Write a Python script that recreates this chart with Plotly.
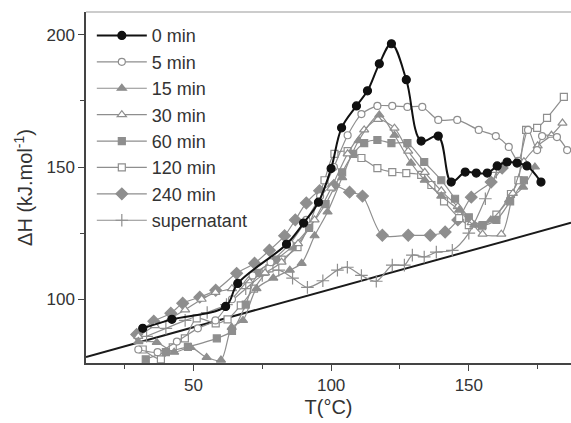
import plotly.graph_objects as go

# ---------------- data ----------------
T0 = [31.6, 42.2, 61.7, 66.1, 83.8, 90, 95.4, 100, 103.8, 109.2, 113.2, 117.5, 121.9, 127.3,
      132.7, 138.9, 143.6, 148.7, 152.7, 156.7, 160.3, 163.9, 167.5, 171.1, 176.2]
H0 = [89, 92.4, 97.3, 106, 120.8, 128.8, 136.7, 149.4, 164.8, 173.1, 178.8, 189, 196.6, 183,
      159.8, 161.7, 144.3, 148.1, 147.7, 147.7, 150.4, 151.9, 151.5, 150.4, 144.3]

T5 = [30, 37, 44, 51.6, 58, 64, 71.5, 78, 85, 91, 96, 101, 106, 111, 116.8, 122.2, 127.7, 133.1,
      138.9, 145.8, 153.6, 159.8, 164.5, 167.9, 171.5, 174.8, 176.6, 182, 185.7]
H5 = [81, 80, 84, 89, 92, 100, 109, 114, 121, 130, 139, 150, 162, 170, 173.1, 173.1, 172.7, 172.7,
      167.8, 167.8, 164, 161.7, 157.6, 152.3, 164, 156.4, 161.7, 161.3, 156.4]

T15 = [30, 36.7, 43, 49, 54.8, 60, 63.9, 68, 72.9, 79, 85, 89.3, 94, 98.7, 104, 110, 117.5, 123,
       129, 134, 140, 146.5, 152, 158, 164.6, 169.7, 174]
H15 = [84, 83.7, 80, 81.8, 78, 77, 89.4, 92, 104, 108, 111, 113.6, 124, 133, 146, 160, 169.7, 162,
       151.5, 145, 139, 133.7, 128, 130, 137.5, 142.4, 150]

T30 = [30, 36, 42, 47, 53, 58, 64, 70, 76, 82, 88, 94, 100, 106, 112, 117, 123, 128, 134, 140,
       146, 151, 155, 161.8, 166, 170, 175, 180, 184]
H30 = [86, 90, 93, 96, 100, 102.6, 104, 107, 110, 114, 121, 130, 142, 155, 164, 168, 164.7, 156,
       148, 141, 135, 129, 124.6, 124.6, 140, 152, 158, 162, 166.6]

T60 = [32.7, 40, 48, 58.5, 64, 69, 73.3, 80, 86, 92, 98, 104, 108, 112, 116.8, 121.9, 127.7,
       133.8, 140, 145, 150, 155, 160, 165, 170]
H60 = [77.3, 80, 82, 85.2, 88, 98, 110, 115, 120, 127, 136, 148, 155, 159, 160.2, 159, 159,
       151.9, 145, 138, 131, 128, 130, 137, 145]

T120 = [31.6, 38.2, 42.5, 46.9, 51.2, 58.1, 62.4, 67.2, 72, 77.6, 82, 87.8, 92, 97.6, 101.2, 106,
        111, 116.8, 122.2, 127.3, 132.7, 136.4, 141, 146.5, 150, 154.8, 160, 165.3, 168, 170.8,
        174.8, 178.4, 184.5]
H120 = [81, 77.3, 81.8, 85.2, 92.8, 90.9, 92.4, 97.7, 104, 111.7, 115, 119.7, 128, 145, 155, 156,
        153.4, 149.6, 148.1, 147.7, 147, 143.2, 137, 130.7, 128, 127.6, 132, 139.8, 145, 164,
        164.8, 168.6, 176.5]

T240 = [29.4, 35.6, 41.8, 46.1, 52.3, 58.1, 65.7, 72.2, 77.6, 83.1, 87, 91, 95.8, 101, 106.7,
        111.4, 118.6, 128, 136, 141.4, 146, 150.9, 158.1, 162.1]
H240 = [86.7, 91.7, 94.7, 98.5, 100.8, 103.4, 109.8, 113.6, 118.5, 124, 130, 136.4, 141, 143,
        140.5, 139, 124.2, 124.2, 124.2, 125.4, 130, 138.6, 144.3, 149.6]

Tsup = [33, 40, 47, 55, 62, 69, 75, 81, 86, 91.4, 97, 102.3, 105.9, 111, 116.4, 122.2, 126.6,
        129.5, 133.8, 138.2, 144, 150, 156, 160]
Hsup = [86, 89, 92, 95, 98, 104, 109, 111, 108, 104.5, 107, 111, 112.1, 109, 106.8, 112.9, 112.9,
        116.7, 116, 117.8, 118.5, 125, 138, 148]

Tbase = [11, 187.1]
Hbase = [78.2, 128.9]

series_names = ["0 min", "5 min", "15 min", "30 min", "60 min", "120 min", "240 min", "supernatant"]

x_ticks = [50, 100, 150]
y_ticks = [100, 150, 200]

# ---------------- figure ----------------
GRAY = "#8e8e8e"
fig = go.Figure()

fig.add_trace(go.Scatter(x=Tbase, y=Hbase, mode="lines", line=dict(color="#1a1a1a", width=2),
                         showlegend=False, hoverinfo="skip"))

def add(T, H, name, symbol, filled, size=8, lc=GRAY, lw=1.2, sm=0.8):
    fig.add_trace(go.Scatter(
        x=T, y=H, name=name, mode="lines+markers",
        line=dict(color=lc, width=lw, shape="spline", smoothing=sm),
        marker=dict(symbol=symbol, size=size,
                    color=(lc if filled else "white"),
                    line=dict(color=lc, width=1.2))))

add(Tsup, Hsup, series_names[7], "cross-thin", False, 9)
add(T240, H240, series_names[6], "diamond", True, 9)
add(T120, H120, series_names[5], "square", False, 7)
add(T60, H60, series_names[4], "square", True, 7)
add(T30, H30, series_names[3], "triangle-up", False, 8)
add(T15, H15, series_names[2], "triangle-up", True, 8)
add(T5, H5, series_names[1], "circle", False, 7)
add(T0, H0, series_names[0], "circle", True, 8, lc="#111111", lw=2, sm=1.0)

fig.update_layout(
    width=571, height=423,
    margin=dict(l=86, r=0, t=12, b=60),
    paper_bgcolor="white", plot_bgcolor="white",
    font=dict(family="Liberation Sans, Arial, sans-serif", size=17, color="#333333"),
    showlegend=True,
    legend=dict(x=0.012, y=0.985, xanchor="left", yanchor="top", traceorder="reversed",
                bgcolor="rgba(0,0,0,0)", font=dict(size=18, color="#333333"),
                itemwidth=50, tracegroupgap=0),
    xaxis=dict(range=[11, 187.1], tickvals=x_ticks, ticks="outside", ticklen=6, tickwidth=1,
               tickcolor="#444", showline=True, linecolor="#444", linewidth=1.5,
               showgrid=False, zeroline=False, automargin=False,
               minor=dict(tickvals=[25, 75, 125, 175], ticks="outside", ticklen=4,
                          tickcolor="#444"),
               title=dict(text="T(°C)", standoff=6)),
    yaxis=dict(range=[75.9, 208.6], tickvals=y_ticks, ticks="outside", ticklen=6, tickwidth=1,
               tickcolor="#444", showline=True, linecolor="#444", linewidth=1.5,
               showgrid=False, zeroline=False, automargin=False,
               minor=dict(tickvals=[125, 175], ticks="outside", ticklen=4, tickcolor="#444"),
               title=dict(text="ΔH (kJ.mol<sup>-1</sup>)", standoff=8)),
)

fig.add_shape(type="line", xref="paper", yref="paper", x0=0, x1=1, y0=1, y1=1,
              line=dict(color="#999999", width=1.2))

fig.write_html("out.html", config={"displayModeBar": False},
               post_script="document.body.style.margin='0px';document.body.style.padding='0px';")
